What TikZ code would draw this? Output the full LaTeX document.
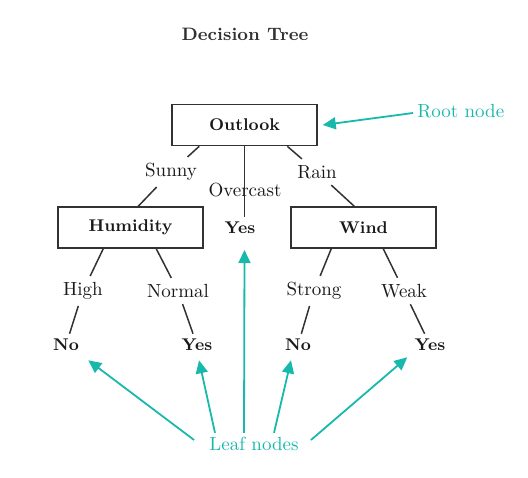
\documentclass[tikz,border=0pt]{standalone}
\usetikzlibrary{calc,arrows.meta}
\definecolor{tealc}{RGB}{24,184,172}
\definecolor{ink}{RGB}{50,50,50}
\definecolor{txt}{RGB}{25,25,25}
\begin{document}
\begin{tikzpicture}[x=0.5pt,y=-0.5pt,
  box/.style={draw=ink, line width=0.75pt, minimum width=72.5pt, minimum height=20.5pt, inner sep=0pt, font=\fontsize{8.5}{10}\selectfont\bfseries, text=txt},
  leaf/.style={font=\fontsize{8.5}{10}\selectfont\bfseries, inner sep=2.5pt, text=txt},
  lbl/.style={font=\fontsize{9.5}{11}\selectfont, inner sep=3pt, text=txt},
  note/.style={font=\fontsize{9.5}{11}\selectfont, text=tealc, inner sep=2pt},
  edge/.style={draw=ink, line width=0.75pt},
  pointer/.style={draw=tealc, line width=0.9pt, -{Triangle[length=6.5pt,width=6pt]}}]
\useasboundingbox (0,0) rectangle (528,477);

\node[font=\fontsize{9}{11}\selectfont\bfseries, text=ink] (title) at (245,34) {Decision Tree};

% boxes
\node[box] (outlook) at (244.5,125) {Outlook};
\node[box] (humidity) at (130.5,227.5) {Humidity};
\node[box] (wind) at (363.5,227.5) {Wind};

% leaves
\node[leaf] (yes1) at (240,228) {Yes};
\node[leaf] (no1) at (66,345) {No};
\node[leaf] (yes2) at (197,345) {Yes};
\node[leaf] (no2) at (298,345) {No};
\node[leaf] (yes3) at (430,345) {Yes};

% edge labels
\node[lbl] (sunny) at (171,172) {Sunny};
\node[lbl] (rain) at (317,172) {Rain};
\node[lbl] (high) at (83,291) {High};
\node[lbl] (normal) at (178,291) {Normal};
\node[lbl] (strong) at (314,291) {Strong};
\node[lbl] (weak) at (404,291) {Weak};

% connectors
\draw[edge] ($(outlook.south west)+(28,0)$) -- (sunny);
\draw[edge] (sunny) -- ($(humidity.north west)+(81,0)$);
\draw[edge] ($(outlook.south west)+(116,0)$) -- (rain);
\draw[edge] (rain) -- ($(wind.north west)+(64,0)$);
\draw[edge] (outlook.south) -- (outlook.south |- yes1.north);
\node[lbl] (overcast) at (245,190) {Overcast};

\draw[edge] ($(humidity.south west)+(46,0)$) -- (high);
\draw[edge] (high) -- (no1);
\draw[edge] ($(humidity.south west)+(99,0)$) -- (normal);
\draw[edge] (normal) -- (yes2);
\draw[edge] ($(wind.south west)+(41,0)$) -- (strong);
\draw[edge] (strong) -- (no2);
\draw[edge] ($(wind.south west)+(93,0)$) -- (weak);
\draw[edge] (weak) -- (yes3);

% annotations
\node[note, anchor=west] (rootnote) at (413,111) {Root node};
\draw[pointer] ($(rootnote.west)+(0,2)$) -- ($(outlook.east)+(5,0)$);

\node[note] (leafnote) at (254,444) {Leaf nodes};
\draw[pointer] ($(leafnote.west)+(-11,-4)$) -- ($(no1.south east)+(4,4)$);
\draw[pointer] ($(leafnote.north)+(-39,0)$) -- ($(yes2.south)+(2,4)$);
\draw[pointer] ($(leafnote.north)+(-10,0)$) -- (outlook.south |- 0,250);
\draw[pointer] ($(leafnote.north)+(20,0)$) -- ($(no2.south)+(-7,4)$);
\draw[pointer] ($(leafnote.east)+(8,-4)$) -- ($(yes3.south west)+(-2,1)$);
\end{tikzpicture}
\end{document}
